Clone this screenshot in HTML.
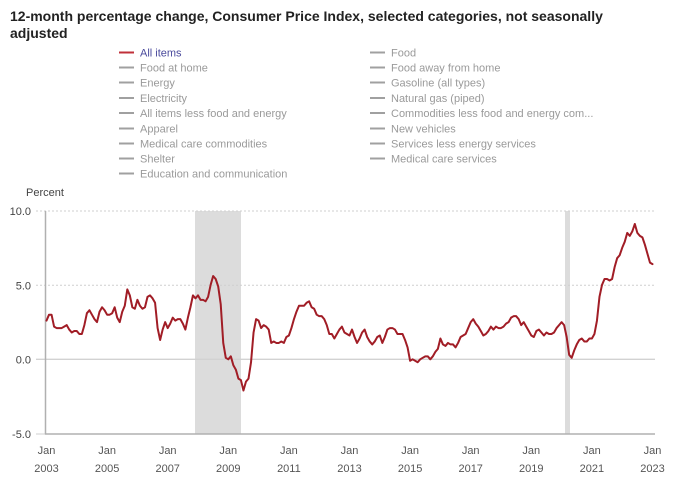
<!DOCTYPE html>
<html><head><meta charset="utf-8"><style>
html,body{margin:0;padding:0;background:#fff;}
svg{display:block;}
text{font-family:"Liberation Sans",Arial,sans-serif;}
</style></head><body>
<svg width="678" height="486" viewBox="0 0 678 486" xmlns="http://www.w3.org/2000/svg">
<rect width="678" height="486" fill="#fff"/>
<text x="10" y="21" font-size="14" font-weight="bold" fill="#222">12-month percentage change, Consumer Price Index, selected categories, not seasonally</text>
<text x="10" y="38" font-size="14" font-weight="bold" fill="#222">adjusted</text>
<g font-size="11" fill="#9a9a9a">
<line x1="119" y1="52.5" x2="134" y2="52.5" stroke="#c0303a" stroke-width="2"/>
<text x="140" y="56.5" fill="#4a4a9c">All items</text>
<g stroke="#a0a0a0" stroke-width="2">
<line x1="119" y1="67.5" x2="134" y2="67.5"/><line x1="119" y1="82.5" x2="134" y2="82.5"/>
<line x1="119" y1="98" x2="134" y2="98"/><line x1="119" y1="113" x2="134" y2="113"/>
<line x1="119" y1="128.5" x2="134" y2="128.5"/><line x1="119" y1="143.5" x2="134" y2="143.5"/>
<line x1="119" y1="158.5" x2="134" y2="158.5"/><line x1="119" y1="173.5" x2="134" y2="173.5"/>
<line x1="370" y1="52.5" x2="385" y2="52.5"/><line x1="370" y1="67.5" x2="385" y2="67.5"/>
<line x1="370" y1="82.5" x2="385" y2="82.5"/><line x1="370" y1="98" x2="385" y2="98"/>
<line x1="370" y1="113" x2="385" y2="113"/><line x1="370" y1="128.5" x2="385" y2="128.5"/>
<line x1="370" y1="143.5" x2="385" y2="143.5"/><line x1="370" y1="158.5" x2="385" y2="158.5"/>
</g>
<text x="140" y="71.5">Food at home</text>
<text x="140" y="86.5">Energy</text>
<text x="140" y="102">Electricity</text>
<text x="140" y="117">All items less food and energy</text>
<text x="140" y="132.5">Apparel</text>
<text x="140" y="147.5">Medical care commodities</text>
<text x="140" y="162.5">Shelter</text>
<text x="140" y="177.5">Education and communication</text>
<text x="391" y="56.5">Food</text>
<text x="391" y="71.5">Food away from home</text>
<text x="391" y="86.5">Gasoline (all types)</text>
<text x="391" y="102">Natural gas (piped)</text>
<text x="391" y="117">Commodities less food and energy com...</text>
<text x="391" y="132.5">New vehicles</text>
<text x="391" y="147.5">Services less energy services</text>
<text x="391" y="162.5">Medical care services</text>
</g>
<text x="26" y="196" font-size="11" fill="#444">Percent</text>
<!-- recessions -->
<rect x="195" y="211" width="46" height="223" fill="#dcdcdc"/>
<rect x="565" y="211" width="5" height="223" fill="#dcdcdc"/>
<!-- grid -->
<g stroke="#cfcfcf" stroke-width="1">
<line x1="36" y1="211" x2="655" y2="211" stroke-dasharray="2,2"/>
<line x1="36" y1="285.3" x2="655" y2="285.3" stroke-dasharray="2,2"/>
<line x1="36" y1="359.3" x2="655" y2="359.3" stroke="#d2d2d2" stroke-width="1.3"/>
<line x1="36" y1="434" x2="45" y2="434"/>
</g>
<line x1="45.5" y1="211" x2="45.5" y2="434.5" stroke="#b0b0b0" stroke-width="1.5"/>
<line x1="45" y1="434" x2="655" y2="434" stroke="#b0b0b0" stroke-width="1.5"/>
<g font-size="11" fill="#444" text-anchor="end">
<text x="31" y="215">10.0</text>
<text x="31" y="289.5">5.0</text>
<text x="31" y="363.5">0.0</text>
<text x="31" y="438">-5.0</text>
</g>
<g font-size="11" fill="#555" text-anchor="middle">
<text x="46.5" y="454">Jan</text><text x="46.5" y="472">2003</text>
<text x="107.1" y="454">Jan</text><text x="107.1" y="472">2005</text>
<text x="167.7" y="454">Jan</text><text x="167.7" y="472">2007</text>
<text x="228.3" y="454">Jan</text><text x="228.3" y="472">2009</text>
<text x="288.9" y="454">Jan</text><text x="288.9" y="472">2011</text>
<text x="349.5" y="454">Jan</text><text x="349.5" y="472">2013</text>
<text x="410.1" y="454">Jan</text><text x="410.1" y="472">2015</text>
<text x="470.7" y="454">Jan</text><text x="470.7" y="472">2017</text>
<text x="531.3" y="454">Jan</text><text x="531.3" y="472">2019</text>
<text x="591.9" y="454">Jan</text><text x="591.9" y="472">2021</text>
<text x="652.5" y="454">Jan</text><text x="652.5" y="472">2023</text>
</g>
<g transform="translate(46.5,359.3) scale(2.525,-14.87)">
<polyline fill="none" stroke="#a11d26" stroke-width="2" stroke-linejoin="round" stroke-linecap="round" vector-effect="non-scaling-stroke" points="
0,2.6 1,3.0 2,3.0 3,2.2 4,2.1 5,2.1 6,2.1 7,2.2 8,2.3 9,2.0 10,1.8 11,1.9
12,1.9 13,1.7 14,1.7 15,2.3 16,3.1 17,3.3 18,3.0 19,2.7 20,2.5 21,3.2 22,3.5 23,3.3
24,3.0 25,3.0 26,3.1 27,3.5 28,2.8 29,2.5 30,3.2 31,3.6 32,4.7 33,4.3 34,3.5 35,3.4
36,4.0 37,3.6 38,3.4 39,3.5 40,4.2 41,4.3 42,4.1 43,3.8 44,2.1 45,1.3 46,2.0 47,2.5
48,2.1 49,2.4 50,2.8 51,2.6 52,2.7 53,2.7 54,2.4 55,2.0 56,2.8 57,3.5 58,4.3 59,4.1
60,4.3 61,4.0 62,4.0 63,3.9 64,4.2 65,5.0 66,5.6 67,5.4 68,4.9 69,3.7 70,1.1 71,0.1
72,0.0 73,0.2 74,-0.4 75,-0.7 76,-1.3 77,-1.4 78,-2.1 79,-1.5 80,-1.3 81,-0.2 82,1.8 83,2.7
84,2.6 85,2.1 86,2.3 87,2.2 88,2.0 89,1.1 90,1.2 91,1.1 92,1.1 93,1.2 94,1.1 95,1.5
96,1.6 97,2.1 98,2.7 99,3.2 100,3.6 101,3.6 102,3.6 103,3.8 104,3.9 105,3.5 106,3.4 107,3.0
108,2.9 109,2.9 110,2.7 111,2.3 112,1.7 113,1.7 114,1.4 115,1.7 116,2.0 117,2.2 118,1.8 119,1.7
120,1.6 121,2.0 122,1.5 123,1.1 124,1.4 125,1.8 126,2.0 127,1.5 128,1.2 129,1.0 130,1.2 131,1.5
132,1.6 133,1.1 134,1.5 135,2.0 136,2.1 137,2.1 138,2.0 139,1.7 140,1.7 141,1.7 142,1.3 143,0.8
144,-0.1 145,0.0 146,-0.1 147,-0.2 148,0.0 149,0.1 150,0.2 151,0.2 152,0.0 153,0.2 154,0.5 155,0.7
156,1.4 157,1.0 158,0.9 159,1.1 160,1.0 161,1.0 162,0.8 163,1.1 164,1.5 165,1.6 166,1.7 167,2.1
168,2.5 169,2.7 170,2.4 171,2.2 172,1.9 173,1.6 174,1.7 175,1.9 176,2.2 177,2.0 178,2.2 179,2.1
180,2.1 181,2.2 182,2.4 183,2.5 184,2.8 185,2.9 186,2.9 187,2.7 188,2.3 189,2.5 190,2.2 191,1.9
192,1.6 193,1.5 194,1.9 195,2.0 196,1.8 197,1.6 198,1.8 199,1.7 200,1.7 201,1.8 202,2.1 203,2.3
204,2.5 205,2.3 206,1.5 207,0.3 208,0.1 209,0.6 210,1.0 211,1.3 212,1.4 213,1.2 214,1.2 215,1.4
216,1.4 217,1.7 218,2.6 219,4.2 220,5.0 221,5.4 222,5.4 223,5.3 224,5.4 225,6.2 226,6.8 227,7.0
228,7.5 229,7.9 230,8.5 231,8.3 232,8.6 233,9.1 234,8.5 235,8.3 236,8.2 237,7.7 238,7.1 239,6.5
240,6.4"/>
</g>
</svg>
</body></html>
